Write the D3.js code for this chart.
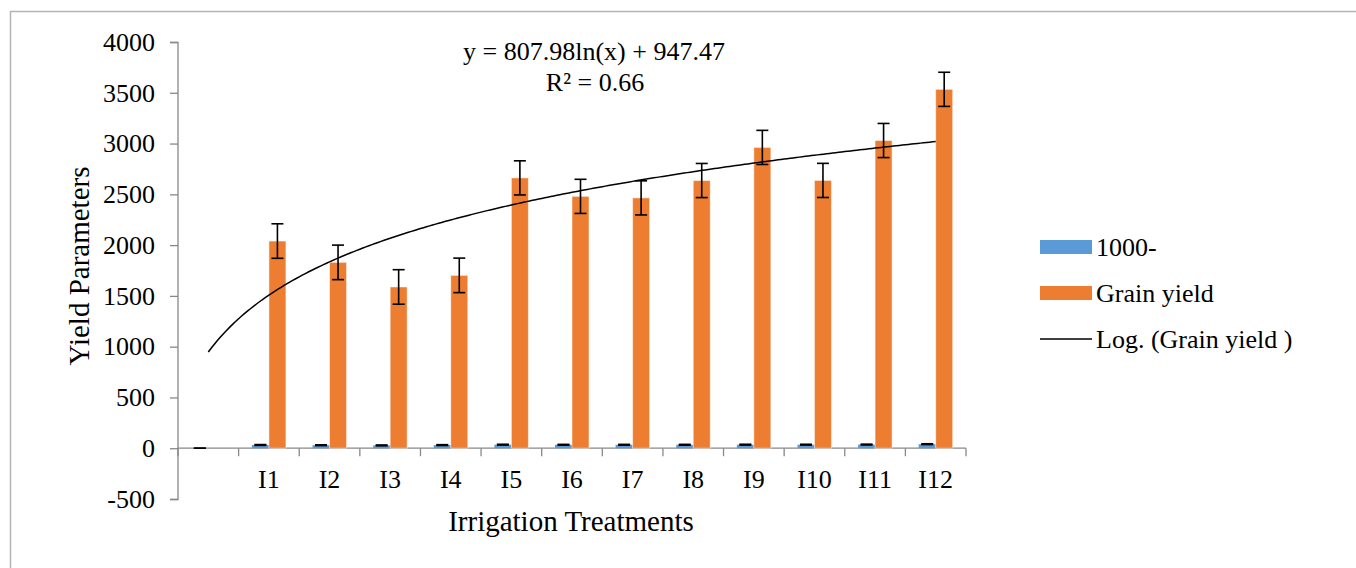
<!DOCTYPE html>
<html>
<head>
<meta charset="utf-8">
<script src="https://cdn.jsdelivr.net/npm/d3@7"></script>
<style>
  body { margin: 0; background: #fff; }
  text { font-family: "Liberation Serif", "Times New Roman", serif; fill: #000; }
</style>
</head>
<body>
<svg id="chart" width="1356" height="568"></svg>
<script>
var width = 1356, height = 568;

// categories (first one is blank in the source sheet)
var categories = ["", "I1", "I2", "I3", "I4", "I5", "I6", "I7", "I8", "I9", "I10", "I11", "I12"];
var thousandWeight = [0, 32, 30, 28, 31, 35, 34, 34, 34, 35, 35, 36, 40];
var thousandWeightErr = [0, 4, 4, 4, 4, 4, 4, 4, 4, 4, 4, 4, 4];
var grainYield = [null, 2040, 1830, 1588, 1702, 2662, 2480, 2465, 2636, 2962, 2637, 3030, 3534];
var grainYieldErr = [null, 170, 170, 170, 170, 168, 168, 168, 168, 168, 168, 168, 168];
var yTicks = [-500, 0, 500, 1000, 1500, 2000, 2500, 3000, 3500, 4000];
// Excel log trendline shown on the chart
var trendA = 807.98, trendB = 947.47;
var trendEq = "y = 807.98ln(x) + 947.47", trendR2 = "R² = 0.66";
var seriesNames = ["1000-", "Grain yield", "Log. (Grain yield )"];
var colors = ["#5B9BD5", "#ED7D31"];

var svg = d3.select("#chart");

// outer chart border
svg.append("rect")
        .attr("x", 10.5).attr("y", 11.5)
        .attr("width", 1400).attr("height", 600)
        .attr("fill", "none")
        .attr("stroke", "#b4b4b4")
        .attr("stroke-width", 1.5);

var x = d3.scaleBand()
        .domain(categories)
        .range([178, 966])
        .padding(0);

var xs = d3.scaleBand()
        .domain(["w", "g"])
        .range([x.bandwidth() / 2 - 17, x.bandwidth() / 2 + 17]);

var y = d3.scaleLinear()
        .domain([-500, 4000])
        .range([499, 42]);

// y axis
var yAxis = svg.append("g")
        .attr("transform", "translate(178,0)")
        .call(d3.axisLeft(y).tickValues(yTicks).tickSize(8).tickPadding(15)
                .tickFormat(function (d) { return String(d); }));
yAxis.attr("font-family", null).attr("font-size", null);
yAxis.selectAll("text").style("font-size", "26px");
yAxis.selectAll("line, path").attr("stroke", "#888").attr("stroke-width", 1.3);
yAxis.select(".domain").attr("d", "M-8,499.5H0V42.5H-8");

// x axis at zero, ticks between categories
var xAxis = svg.append("g")
        .attr("transform", "translate(0," + y(0) + ")");
xAxis.append("line")
        .attr("x1", 178).attr("x2", 966)
        .attr("stroke", "#888").attr("stroke-width", 1.3);
xAxis.selectAll(".tk")
        .data(categories.concat(["end"]))
        .enter().append("line")
        .attr("class", "tk")
        .attr("x1", function (d, i) { return 178 + i * x.bandwidth(); })
        .attr("x2", function (d, i) { return 178 + i * x.bandwidth(); })
        .attr("y1", 0).attr("y2", 8)
        .attr("stroke", "#888").attr("stroke-width", 1.3);
svg.selectAll(".xlab")
        .data(categories)
        .enter().append("text")
        .attr("class", "xlab")
        .attr("x", function (d) { return x(d) + x.bandwidth() / 2; })
        .attr("y", 488)
        .attr("text-anchor", "middle")
        .style("font-size", "26px")
        .text(function (d) { return d; });

// bars
var groups = svg.selectAll(".cat")
        .data(categories)
        .enter().append("g")
        .attr("class", "cat")
        .attr("transform", function (d) { return "translate(" + x(d) + ",0)"; });

groups.append("rect")
        .attr("x", xs("w"))
        .attr("width", xs.bandwidth())
        .attr("y", function (d, i) { return y(thousandWeight[i]); })
        .attr("height", function (d, i) { return y(0) - y(thousandWeight[i]); })
        .attr("fill", colors[0]);

groups.filter(function (d, i) { return grainYield[i] != null; })
        .append("rect")
        .attr("x", xs("g"))
        .attr("width", xs.bandwidth())
        .attr("y", function (d) { return y(grainYield[categories.indexOf(d)]); })
        .attr("height", function (d) { return y(0) - y(grainYield[categories.indexOf(d)]); })
        .attr("fill", colors[1])
        .attr("stroke", "rgba(255,255,255,0.5)")
        .attr("stroke-width", 1);

// error bars
function errBar(g, cx, v, e) {
        var top = y(v + e), bot = y(v - e);
        g.append("line").attr("x1", cx).attr("x2", cx).attr("y1", top).attr("y2", bot);
        g.append("line").attr("x1", cx - 6).attr("x2", cx + 6).attr("y1", top).attr("y2", top);
        g.append("line").attr("x1", cx - 6).attr("x2", cx + 6).attr("y1", bot).attr("y2", bot);
}
var eg = svg.append("g").attr("stroke", "#000").attr("stroke-width", 1.6);
categories.forEach(function (c, i) {
        errBar(eg, x(c) + xs("w") + xs.bandwidth() / 2, thousandWeight[i], thousandWeightErr[i]);
        if (grainYield[i] != null)
                errBar(eg, x(c) + xs("g") + xs.bandwidth() / 2, grainYield[i], grainYieldErr[i]);
});

// log trendline over category index 1..13
var xi = d3.scaleLinear().domain([0.5, categories.length + 0.5]).range([178, 966]);
var idx = d3.range(1, categories.length + 0.001, 0.05);
svg.append("path")
        .datum(idx)
        .attr("fill", "none")
        .attr("stroke", "#000")
        .attr("stroke-width", 1.5)
        .attr("d", d3.line()
                .x(function (t) { return xi(t); })
                .y(function (t) { return y(trendA * Math.log(t) + trendB); }));

svg.append("text").attr("x", 594).attr("y", 60).attr("text-anchor", "middle")
        .style("font-size", "26px").text(trendEq);
svg.append("text").attr("x", 595).attr("y", 91).attr("text-anchor", "middle")
        .style("font-size", "26px").text(trendR2);

// axis titles
svg.append("text")
        .attr("transform", "translate(89,266) rotate(-90)")
        .attr("text-anchor", "middle")
        .style("font-size", "29px")
        .text("Yield Parameters");
svg.append("text")
        .attr("x", 571).attr("y", 531)
        .attr("text-anchor", "middle")
        .style("font-size", "29px")
        .text("Irrigation Treatments");

// legend
var legend = svg.selectAll(".legend")
        .data(seriesNames)
        .enter().append("g")
        .attr("class", "legend")
        .attr("transform", function (d, i) { return "translate(1040," + (247 + i * 46) + ")"; });
legend.filter(function (d, i) { return i < 2; })
        .append("rect")
        .attr("x", 0).attr("y", -7).attr("width", 52).attr("height", 14)
        .attr("fill", function (d, i) { return colors[i]; });
legend.filter(function (d, i) { return i == 2; })
        .append("line")
        .attr("x1", 0).attr("x2", 52).attr("y1", 0).attr("y2", 0)
        .attr("stroke", "#000").attr("stroke-width", 1.5);
legend.append("text")
        .attr("x", 56)
        .attr("y", 9)
        .style("font-size", "26px")
        .text(function (d) { return d; });
</script>
</body>
</html>
